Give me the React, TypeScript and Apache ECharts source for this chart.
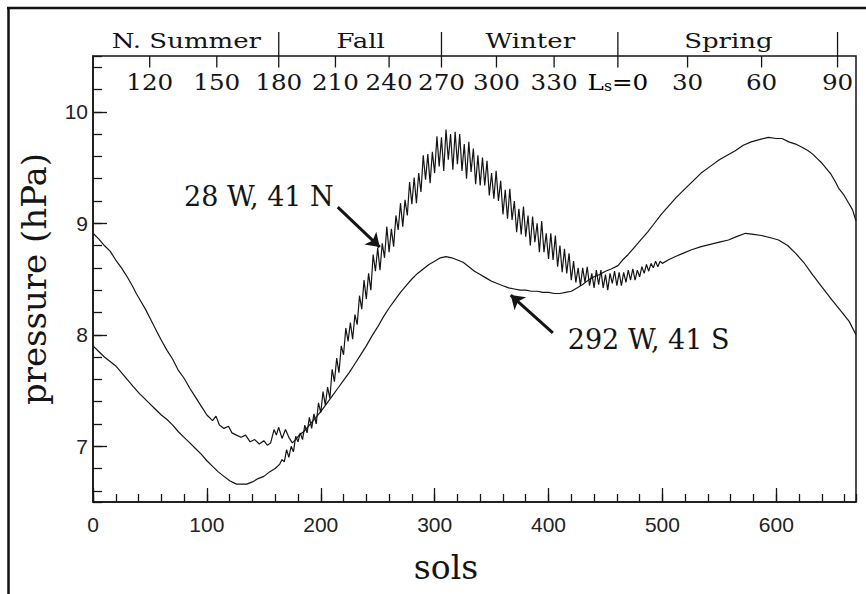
import React, { useEffect, useRef } from "react";
import * as echarts from "echarts";

// ---------- data (sols, hPa) ----------
const southSite: [number, number][] = [
  [0, 8.91], [5, 8.86], [10, 8.8], [15, 8.75], [20, 8.67], [25, 8.6], [30, 8.52], [35, 8.43], [38, 8.37], [42, 8.3],
  [46, 8.23], [50, 8.15], [55, 8.05], [60, 7.95], [65, 7.86], [70, 7.78], [75, 7.68], [80, 7.61], [85, 7.52], [90, 7.44],
  [95, 7.36], [100, 7.28], [105, 7.23], [108, 7.27], [111, 7.19], [115, 7.16], [119, 7.18], [122, 7.12], [126, 7.1], [130, 7.08],
  [134, 7.1], [138, 7.04], [142, 7.06], [146, 7.02], [150, 7.05], [153, 7.01], [156, 7.03], [159, 7.15], [161, 7.1], [163, 7.17],
  [166, 7.07], [169, 7.15], [172, 7.08], [175, 7.03], [178, 7.06], [181, 7.1], [185, 7.13], [190, 7.19], [195, 7.25], [200, 7.31],
  [205, 7.38], [210, 7.45], [215, 7.52], [220, 7.59], [225, 7.66], [230, 7.74], [235, 7.82], [240, 7.9], [245, 7.99], [250, 8.07],
  [255, 8.16], [260, 8.24], [265, 8.31], [270, 8.38], [275, 8.44], [280, 8.5], [285, 8.55], [290, 8.59], [295, 8.63], [300, 8.66],
  [305, 8.69], [310, 8.7], [315, 8.69], [320, 8.67], [325, 8.65], [330, 8.61], [335, 8.57], [340, 8.54], [345, 8.51], [350, 8.48],
  [355, 8.46], [360, 8.44], [365, 8.42], [370, 8.41], [375, 8.4], [380, 8.4], [385, 8.39], [390, 8.39], [395, 8.38], [400, 8.38],
  [405, 8.37], [410, 8.37], [415, 8.38], [420, 8.39], [425, 8.42], [430, 8.45], [435, 8.49], [440, 8.52], [445, 8.54], [450, 8.57],
  [455, 8.59], [461, 8.62], [465, 8.67], [470, 8.72], [475, 8.78], [481, 8.85], [487, 8.92], [493, 9.0], [499, 9.08], [505, 9.15],
  [512, 9.23], [520, 9.31], [527, 9.38], [534, 9.45], [542, 9.51], [550, 9.57], [557, 9.61], [564, 9.65], [571, 9.7], [578, 9.73],
  [585, 9.75], [593, 9.77], [600, 9.76], [605, 9.76], [611, 9.73], [617, 9.71], [623, 9.68], [628, 9.65], [632, 9.62], [636, 9.58],
  [640, 9.54], [644, 9.49], [648, 9.44], [652, 9.37], [655, 9.31], [659, 9.26], [663, 9.19], [667, 9.12], [670, 9.02],
];

const northSite: [number, number][] = [
  [0, 7.9], [5, 7.85], [10, 7.8], [15, 7.76], [20, 7.72], [25, 7.66], [30, 7.6], [35, 7.54], [41, 7.47], [46, 7.42],
  [50, 7.38], [55, 7.33], [60, 7.28], [65, 7.24], [70, 7.19], [75, 7.13], [80, 7.08], [85, 7.03], [90, 6.98], [95, 6.93],
  [100, 6.87], [105, 6.82], [110, 6.77], [115, 6.73], [120, 6.69], [126, 6.66], [130, 6.66], [135, 6.66], [140, 6.68], [145, 6.71],
  [150, 6.73], [155, 6.77], [160, 6.8], [164, 6.84],
  [166, 6.88], [168, 6.86], [170, 6.97], [172, 6.9], [174, 7.0], [176, 6.95], [178, 7.09], [180, 7.04], [182, 7.12], [184, 7.06],
  [186, 7.19], [188, 7.12], [190, 7.26], [192, 7.16], [194, 7.29], [196, 7.2], [198, 7.39], [200, 7.3],
  [202, 7.49], [204, 7.37], [206, 7.53], [208, 7.43], [210, 7.69], [212, 7.58], [214, 7.79], [216, 7.66], [218, 7.9], [220, 7.82],
  [222, 8.06], [224, 7.94], [226, 8.11], [228, 7.96], [230, 8.18], [232, 8.09], [234, 8.35], [236, 8.23], [238, 8.49], [240, 8.32],
  [242, 8.55], [244, 8.4], [246, 8.72], [248, 8.57], [250, 8.78], [252, 8.58], [254, 8.82], [256, 8.69], [258, 8.97], [260, 8.74],
  [262, 8.95], [264, 8.79], [266, 9.07], [268, 8.94], [270, 9.18], [272, 8.97], [274, 9.21], [276, 9.07], [278, 9.37], [280, 9.17],
  [282, 9.41], [284, 9.18], [286, 9.45], [288, 9.28], [290, 9.61], [292, 9.39], [294, 9.62], [296, 9.36], [298, 9.64], [300, 9.45],
  [302, 9.78], [304, 9.51], [306, 9.77], [308, 9.47], [310, 9.84], [312, 9.57], [314, 9.8], [316, 9.48], [318, 9.82], [320, 9.53],
  [322, 9.8], [324, 9.47], [326, 9.71], [328, 9.4], [330, 9.73], [332, 9.46], [334, 9.67], [336, 9.35], [338, 9.61], [340, 9.34],
  [342, 9.59], [344, 9.34], [346, 9.56], [348, 9.25], [350, 9.45], [352, 9.22], [354, 9.47], [356, 9.2], [358, 9.38], [360, 9.08],
  [362, 9.3], [364, 9.04], [366, 9.31], [368, 9.03], [370, 9.2], [372, 8.92], [374, 9.13], [376, 8.9], [378, 9.15], [380, 8.88],
  [382, 9.07], [384, 8.8], [386, 9.06], [388, 8.83], [390, 9.0], [392, 8.74], [394, 9.02], [396, 8.74], [398, 8.91], [400, 8.68],
  [402, 8.91], [404, 8.67], [406, 8.89], [408, 8.61], [410, 8.8], [412, 8.56], [414, 8.77], [416, 8.55], [418, 8.73], [420, 8.49],
  [422, 8.66], [424, 8.47], [426, 8.6], [428, 8.44], [430, 8.6], [432, 8.47], [434, 8.61], [436, 8.44], [438, 8.55], [440, 8.42],
  [442, 8.58], [444, 8.45], [446, 8.58], [448, 8.42], [450, 8.54], [452, 8.4], [454, 8.55], [456, 8.46], [458, 8.57], [460, 8.44],
  [462, 8.56], [464, 8.44], [466, 8.56], [468, 8.47], [470, 8.58], [472, 8.49], [474, 8.59], [476, 8.49], [478, 8.58], [480, 8.52],
  [482, 8.61], [484, 8.55], [486, 8.63], [488, 8.57], [490, 8.64], [492, 8.6], [494, 8.66], [496, 8.61], [498, 8.66], [500, 8.64],
  [505, 8.67], [511, 8.7], [518, 8.73], [525, 8.76], [534, 8.79], [542, 8.81], [550, 8.83], [558, 8.85], [565, 8.88], [573, 8.91],
  [580, 8.9], [587, 8.89], [595, 8.87], [602, 8.85], [610, 8.8], [617, 8.73], [624, 8.65], [631, 8.55], [640, 8.43], [649, 8.31],
  [657, 8.21], [664, 8.12], [670, 8.0],
];

// Ls (areocentric longitude) ticks on the top edge, located in sols
const lsTickSols = [49.8, 108.7, 163.1, 212.9, 260, 306, 354.3, 404.9, 460.9, 522.1, 587.1, 653.8];
const lsTickLabels = ["120", "150", "180", "210", "240", "270", "300", "330", "Ls=0", "30", "60", "90"];
const seasonBoundaryIdx = [2, 5, 8, 11];
const seasonNames = ["N. Summer", "Fall", "Winter", "Spring"];
const seasonLabelSols = [82, 235, 384, 558];

// ---------- annotation anchors (data coordinates) ----------
const ANN_NORTH = { text: "28 W, 41 N", at: [211.4, 9.243], from: [214.9, 9.144], to: [251.8, 8.786] };
const ANN_SOUTH = { text: "292 W, 41 S", at: [416.9, 7.96], from: [403.8, 8.016], to: [366.8, 8.356] };

const X_MIN = 0;
const X_MAX = 670;
const Y_MIN = 6.5;
const Y_MAX = 10.5;
const INK = "#151515";
const SERIF = '"DejaVu Serif", serif';
const SANS = '"Liberation Sans", Arial, sans-serif';

export default function App() {
  const ref = useRef<HTMLDivElement>(null);

  useEffect(() => {
    const el = ref.current;
    if (!el) return;
    const chart = echarts.init(el, undefined, { renderer: "svg" });

    const lineStyleTick = { color: INK, width: 1.3 };

    const option: any = {
      animation: false,
      backgroundColor: "#ffffff",
      grid: {
        left: 93,
        top: 56,
        width: 763,
        height: 446,
        show: true,
        borderColor: INK,
        borderWidth: 1.5,
        backgroundColor: "transparent",
      },
      xAxis: [
        {
          type: "value",
          min: X_MIN,
          max: X_MAX,
          interval: 100,
          position: "bottom",
          axisLine: { show: true, onZero: false, lineStyle: { color: INK, width: 1.5 } },
          axisTick: { show: true, inside: true, length: 14, lineStyle: lineStyleTick },
          axisLabel: {
            showMaxLabel: false,
            showMinLabel: true,
            fontFamily: SANS,
            fontSize: 21,
            color: "#222",
            margin: 12,
          },
          splitLine: { show: false },
        },
        {
          type: "value",
          min: X_MIN,
          max: X_MAX,
          interval: 20,
          position: "bottom",
          axisLine: { show: false, onZero: false },
          axisTick: { show: true, inside: true, length: 8, lineStyle: lineStyleTick },
          axisLabel: { show: false },
          splitLine: { show: false },
        },
      ],
      yAxis: [
        {
          type: "value",
          min: Y_MIN,
          max: Y_MAX,
          splitNumber: 4,
          position: "left",
          axisLine: { show: true, onZero: false, lineStyle: { color: INK, width: 1.5 } },
          axisTick: { show: true, inside: true, length: 14, lineStyle: lineStyleTick },
          axisLabel: {
            showMinLabel: false,
            showMaxLabel: false,
            fontFamily: SANS,
            fontSize: 21,
            color: "#222",
            margin: 5,
          },
          splitLine: { show: false },
        },
        {
          type: "value",
          min: Y_MIN,
          max: Y_MAX,
          splitNumber: 20,
          position: "left",
          axisLine: { show: false, onZero: false },
          axisTick: { show: true, inside: true, length: 9, lineStyle: lineStyleTick },
          axisLabel: { show: false },
          splitLine: { show: false },
        },
      ],
      series: [
        {
          name: "292 W, 41 S",
          type: "line",
          data: southSite,
          showSymbol: false,
          symbol: "none",
          lineStyle: { color: INK, width: 1.2 },
          silent: true,
          z: 3,
          markLine: {
            silent: true,
            symbol: ["none", "arrow"],
            symbolSize: 13,
            label: { show: false },
            lineStyle: { color: INK, width: 3, type: "solid" },
            emphasis: { disabled: true },
            data: [[{ coord: ANN_SOUTH.from }, { coord: ANN_SOUTH.to }]],
          },
        },
        {
          name: "28 W, 41 N",
          type: "line",
          data: northSite,
          showSymbol: false,
          symbol: "none",
          lineStyle: { color: INK, width: 1.2 },
          silent: true,
          z: 3,
          markLine: {
            silent: true,
            symbol: ["none", "arrow"],
            symbolSize: 13,
            label: { show: false },
            lineStyle: { color: INK, width: 3, type: "solid" },
            emphasis: { disabled: true },
            data: [[{ coord: ANN_NORTH.from }, { coord: ANN_NORTH.to }]],
          },
        },
        {
          type: "custom",
          coordinateSystem: "cartesian2d",
          silent: true,
          clip: false,
          z: 10,
          data: lsTickSols.map((s, i) => [s, Y_MAX, i]),
          renderItem: (_params: any, api: any) => {
            const i = api.value(2);
            const pt = api.coord([api.value(0), api.value(1)]);
            const x = pt[0];
            const y = pt[1];
            const boundary = seasonBoundaryIdx.indexOf(i) >= 0;
            const label = lsTickLabels[i];
            const textStyle =
              label === "Ls=0"
                ? {
                    text: "{a|L}{b|s}{a|=0}",
                    rich: {
                      a: { fontFamily: SERIF, fontSize: 22, lineHeight: 22, color: INK },
                      b: { fontFamily: SERIF, fontSize: 14, lineHeight: 4, verticalAlign: "bottom", color: INK },
                    },
                    align: "center",
                    verticalAlign: "middle",
                  }
                : {
                    text: label,
                    font: `22px ${SERIF}`,
                    fill: INK,
                    align: "center",
                    verticalAlign: "middle",
                  };
            return {
              type: "group",
              children: [
                {
                  type: "line",
                  shape: { x1: x, y1: boundary ? y - 24 : y, x2: x, y2: y + 11.5 },
                  style: { stroke: INK, lineWidth: 1.3 },
                },
                { type: "text", x, y: y + 26.5, scaleX: 1.12, style: textStyle },
              ],
            };
          },
        },
        {
          type: "custom",
          coordinateSystem: "cartesian2d",
          silent: true,
          clip: false,
          z: 10,
          data: seasonLabelSols.map((s, i) => [s, Y_MAX, i]),
          renderItem: (_params: any, api: any) => {
            const pt = api.coord([api.value(0), api.value(1)]);
            return {
              type: "text",
              x: pt[0],
              y: pt[1] - 15.5,
              scaleX: 1.3,
              style: {
                text: seasonNames[api.value(2)],
                font: `20px ${SERIF}`,
                fill: INK,
                align: "center",
                verticalAlign: "middle",
              },
            };
          },
        },
      ],
    };

    chart.setOption(option);

    const toPx = (c: number[]) =>
      chart.convertToPixel({ xAxisIndex: 0, yAxisIndex: 0 }, c) as unknown as number[];
    const pN = toPx(ANN_NORTH.at);
    const pS = toPx(ANN_SOUTH.at);

    chart.setOption({
      graphic: [
        {
          type: "line",
          shape: { x1: 7, y1: 8, x2: 866, y2: 8 },
          style: { stroke: "#111", lineWidth: 2.5 },
          silent: true,
        },
        {
          type: "line",
          shape: { x1: 8.5, y1: 7, x2: 8.5, y2: 594 },
          style: { stroke: "#111", lineWidth: 2.5 },
          silent: true,
        },
        {
          type: "text",
          x: 34,
          y: 279,
          rotation: Math.PI / 2,
          silent: true,
          style: {
            text: "pressure (hPa)",
            font: `34px ${SERIF}`,
            fill: INK,
            align: "center",
            verticalAlign: "middle",
          },
        },
        {
          type: "text",
          x: 446,
          y: 567,
          silent: true,
          style: {
            text: "sols",
            font: `33px ${SERIF}`,
            fill: INK,
            align: "center",
            verticalAlign: "middle",
          },
        },
        {
          type: "text",
          x: pN[0],
          y: pN[1],
          silent: true,
          style: {
            text: ANN_NORTH.text,
            font: `27px ${SERIF}`,
            fill: INK,
            align: "right",
            verticalAlign: "middle",
          },
        },
        {
          type: "text",
          x: pS[0],
          y: pS[1],
          silent: true,
          style: {
            text: ANN_SOUTH.text,
            font: `27px ${SERIF}`,
            fill: INK,
            align: "left",
            verticalAlign: "middle",
          },
        },
      ],
    });

    return () => {
      chart.dispose();
    };
  }, []);

  return (
    <div
      ref={ref}
      style={{ position: "absolute", left: 0, top: 0, width: 866, height: 594, background: "#fff" }}
    />
  );
}
